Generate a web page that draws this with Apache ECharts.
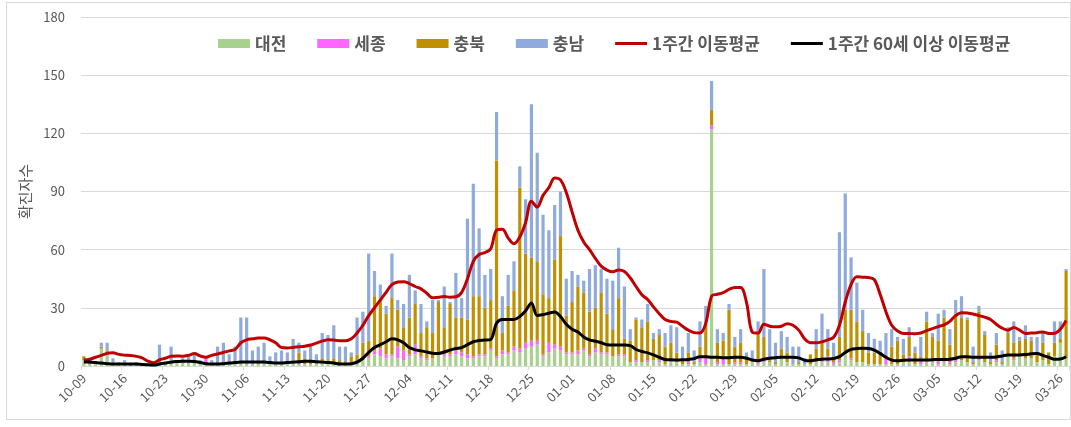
<!DOCTYPE html>
<html>
<head>
<meta charset="utf-8">
<script src="https://cdn.jsdelivr.net/npm/echarts@6/dist/echarts.min.js"></script>
<style>
  html, body { margin: 0; padding: 0; background: #fff; }
  #frame { position: absolute; left: 6px; top: 2px; width: 1063px; height: 416px; border: 1px solid #d9d9d9; }
  #chart { position: absolute; left: 0; top: 0; width: 1071px; height: 427px; }
</style>
</head>
<body>
<div id="frame"></div>
<div id="chart"></div>
<script>
// 날짜 구간 (월, 시작일, 마지막일)
var monthSpans = [['10', 9, 31], ['11', 1, 30], ['12', 1, 31], ['01', 1, 31], ['02', 1, 28], ['03', 1, 27]];
var dates = [];
monthSpans.forEach(function (m) {
  for (var d = m[1]; d <= m[2]; d++) dates.push(m[0] + '-' + (d < 10 ? '0' + d : d));
});

// 일별 확진자수 (지역별)
var daejeon = [
  3,1,1,9,7,2,1,2,0,1, 1,0,0,1,1,1,2,2,2,2, 1,1,1,1,1,1,1,1,1,1,
  1,1,1,1,1,1,1,1,1,1, 1,2,1,2,1,1,2,2,3,4, 6,5,4,5,4,3,5,6,4,3,
  4,6,5,5,6,5,4,4,5,5, 8,4,6,6,8,7,9,10,11,5, 7,9,8,6,6,6,8,5,7,6,
  6,5,5,5,2,2,2,2,3,2, 1,2,2,1,1,1,2,1,122,1, 1,1,1,1,1,2,1,2,2,1,
  4,2,1,1,1,1,2,2,2,1, 2,6,3,2,2,1,1,1,1,1, 1,2,2,1,1,2,2,1,2,1,
  2,3,2,1,3,2,1,2,1,5, 3,6,4,4,2,3,1,5,12,4
];
var sejong = [
  0,0,0,0,0,0,0,0,0,0, 0,0,0,0,0,0,0,0,0,0, 0,3,0,0,0,0,0,0,0,0,
  0,0,0,0,0,0,0,0,0,0, 0,0,0,0,0,0,0,0,0,1, 2,4,2,1,6,5,1,5,1,1,
  0,1,1,1,2,2,2,1,1,1, 1,1,2,1,2,2,3,3,2,1, 5,2,2,1,1,2,1,1,2,1,
  1,0,1,1,0,1,0,1,0,1, 0,1,0,0,1,0,3,4,2,1, 3,0,1,1,0,0,1,1,0,0,
  0,0,0,0,0,0,0,1,3,1, 1,1,1,0,0,0,0,0,3,0, 0,0,3,0,3,1,1,2,1,1,
  1,0,0,0,1,0,0,1,0,0, 1,0,0,0,0,0,0,0,0,0
];
var chungbuk = [
  2,1,0,1,1,0,0,0,0,0, 0,0,0,0,0,1,0,0,1,0, 0,0,0,0,1,0,1,1,0,0,
  1,0,0,0,0,0,2,6,3,2, 0,2,2,2,2,1,3,4,9,8, 28,24,21,29,19,12,19,21,12,16,
  13,26,14,26,17,18,18,31,30,24, 25,101,9,24,29,83,46,43,41,31, 23,44,57,19,26,33,29,22,21,31,
  20,14,29,8,11,21,18,20,11,13, 9,9,5,2,5,1,5,17,8,10, 9,28,8,10,3,1,15,12,1,1,
  5,5,0,1,0,5,7,9,4,3, 12,22,25,21,16,6,6,6,1,9, 12,4,10,6,1,20,12,10,22,9,
  24,22,22,1,24,14,1,8,1,12, 8,7,10,9,5,9,6,7,2,45
];
var chungnam = [
  0,1,1,2,4,2,1,1,1,1, 0,0,1,10,1,8,1,2,2,4, 2,1,2,9,10,5,8,23,24,7,
  8,11,4,6,7,6,11,5,4,8, 5,13,13,17,7,8,2,19,16,45, 13,9,4,23,5,12,22,7,15,3,
  17,1,21,1,23,10,52,58,35,17, 16,25,19,16,15,11,28,79,56,41, 35,28,23,19,16,6,6,22,22,12,
  18,25,26,27,6,1,4,9,3,3, 7,9,13,7,10,6,13,9,15,7, 4,3,5,7,3,5,6,35,16,10,
  9,8,9,8,3,0,10,15,10,7, 54,60,27,20,11,10,7,6,12,9, 2,8,5,3,10,5,2,14,4,8,
  7,11,1,8,3,2,5,6,6,3, 11,2,7,2,8,5,0,11,9,1
];

// 1주간 이동평균
var weekAvg = [
  3.1,3.5,4.5,5.5,6.5,6.8,6,5.6,5.4,5, 4.2,2.5,1.7,3.2,4,5,5.2,5,5.5,6.4,
  5.2,4.5,5.5,6.2,7,7.8,8.5,12,13.5,14, 14.4,14.5,13.5,12,9.5,9.3,9.6,9.9,10.2,10.8,
  11.8,12.8,13.6,13.4,13,13,14,17,21,26, 30,34,38,42,43.3,43.5,42.5,41,39.8,37.5,
  35.2,35.5,35.8,35.5,35.7,38,45,54,57.5,58.5, 60.5,70,70.5,66,63,66.5,74,85,82,88,
  92,97,96,89.5,79.5,70,64,60,55.5,51.5, 49.5,48.6,49.5,48.8,45.5,41,36.8,34.3,30.5,27,
  24,23,22.6,20.5,18.5,17.2,17,22,36,37, 37.8,39.5,40.5,40.5,33,17.5,17,21.5,20.5,20.2,
  20.5,21.8,21,18.5,14,12,12,12.5,13.5,14.8, 21,33,42,46,45.8,45.6,44.5,37,28,21,
  18,16.8,16.8,16.6,17,18.2,19.3,20.3,21.2,23, 26,27.5,27.3,26.8,26,25.2,24,21.5,19.5,18.5,
  19.8,18.5,16.8,17,17.2,17.6,16.8,16.9,19,23.5
];
// 1주간 60세 이상 이동평균
var weekAvg60 = [
  2,2,1.8,1.5,1.2,1,1,1,1,1, 0.8,0.6,0.5,1,1.5,2,2.3,2.5,2.5,2.3,
  1.8,1.2,1,1,1.2,1.5,1.8,2,2,2, 2,2,1.8,1.5,1.5,1.8,2,2.2,2.5,2.5,
  2.2,2,1.8,1.5,1,1,1.2,2,4,7, 9.5,11,12.5,14,13.5,12,9.5,8.3,7.8,7.2,
  6.6,6.5,7.2,8.2,9,9.5,11,12.5,13.2,13.4, 13.7,22,24,24,24,25.5,28.5,32.5,26,26.5,
  27.2,27.8,25.5,21.5,19,17.5,15,13.5,12.8,12, 11,10.8,10.8,10.8,10.5,8.5,7.5,6.8,5.7,4.5,
  3.4,3.2,3.1,3.2,3.4,3.8,4.8,4.8,4.5,4.5, 4.2,4.3,4.5,4.5,4,3.1,2.7,3.5,4,4.3,
  4.5,4.5,4.5,4.2,3,2.7,3.2,3.5,3.6,3.9, 4.8,7,8.6,9,9.1,9,8.2,6.5,4.5,3,
  2.7,3,3.1,3.1,3.1,3.1,3.2,3.4,3.4,3.5, 4,4.8,4.8,4.5,4.5,4.5,4.5,4.7,5.2,5.7,
  5.7,5.7,5.9,6.3,6.5,5.5,4.5,3.5,3.6,4.8
];

var yTicks = { min: 0, max: 180, interval: 30 };
var fontFam = "'Noto Sans CJK KR', 'Noto Sans', sans-serif";
var lineIcon = 'path://M0,0L32,0L32,3L0,3Z'; // 범례용 굵은 선

var chart = echarts.init(document.getElementById('chart'));

function barSeries (name, data, color) {
  return {
    name: name,
    type: 'bar',
    stack: 'total',
    barWidth: '55%',
    itemStyle: { color: color },
    data: data,
  };
}
function lineSeries (name, data, color) {
  return {
    name: name,
    type: 'line',
    symbol: 'none',
    smooth: 0.35,
    z: 5,
    lineStyle: { color: color, width: 3 },
    itemStyle: { color: color },
    data: data,
  };
}

var option = {
  animation: false,
  textStyle: { fontFamily: fontFam },
  legend: {
    left: 213,
    top: 30,
    itemWidth: 32,
    itemHeight: 9,
    itemGap: 31,
    symbolKeepAspect: true,
    textStyle: { fontSize: 17, fontWeight: 'bold', color: '#595959', fontFamily: fontFam },
    data: [
      { name: '대전', icon: 'rect' },
      { name: '세종', icon: 'rect' },
      { name: '충북', icon: 'rect' },
      { name: '충남', icon: 'rect' },
      { name: '1주간 이동평균', icon: lineIcon },
      { name: '1주간 60세 이상 이동평균', icon: lineIcon },
    ],
  },
  grid: { left: 81, top: 17, width: 988, height: 349 },
  xAxis: {
    type: 'category',
    data: dates,
    boundaryGap: true,
    axisLine: { lineStyle: { color: '#d9d9d9' } },
    axisTick: { show: true, interval: 6, length: 4, lineStyle: { color: '#d9d9d9' } },
    axisLabel: { interval: 6, rotate: 45, margin: 10, fontSize: 13, color: '#595959', fontFamily: fontFam },
    splitLine: { show: false },
  },
  yAxis: {
    type: 'value',
    min: yTicks.min,
    max: yTicks.max,
    interval: yTicks.interval,
    name: '확진자수',
    nameLocation: 'middle',
    nameGap: 44,
    nameTextStyle: { fontSize: 15, color: '#595959', fontFamily: fontFam },
    axisLine: { show: false },
    axisTick: { show: false },
    axisLabel: { margin: 16, fontSize: 13, color: '#595959', fontFamily: fontFam },
    splitLine: { lineStyle: { color: '#d9d9d9', width: 1 } },
  },
  series: [
    barSeries('대전', daejeon, '#a9d18e'),
    barSeries('세종', sejong, '#ff66ff'),
    barSeries('충북', chungbuk, '#bf9000'),
    barSeries('충남', chungnam, '#8faadc'),
    lineSeries('1주간 이동평균', weekAvg, '#c00000'),
    lineSeries('1주간 60세 이상 이동평균', weekAvg60, '#000000'),
  ],
};
chart.setOption(option);
</script>
</body>
</html>
